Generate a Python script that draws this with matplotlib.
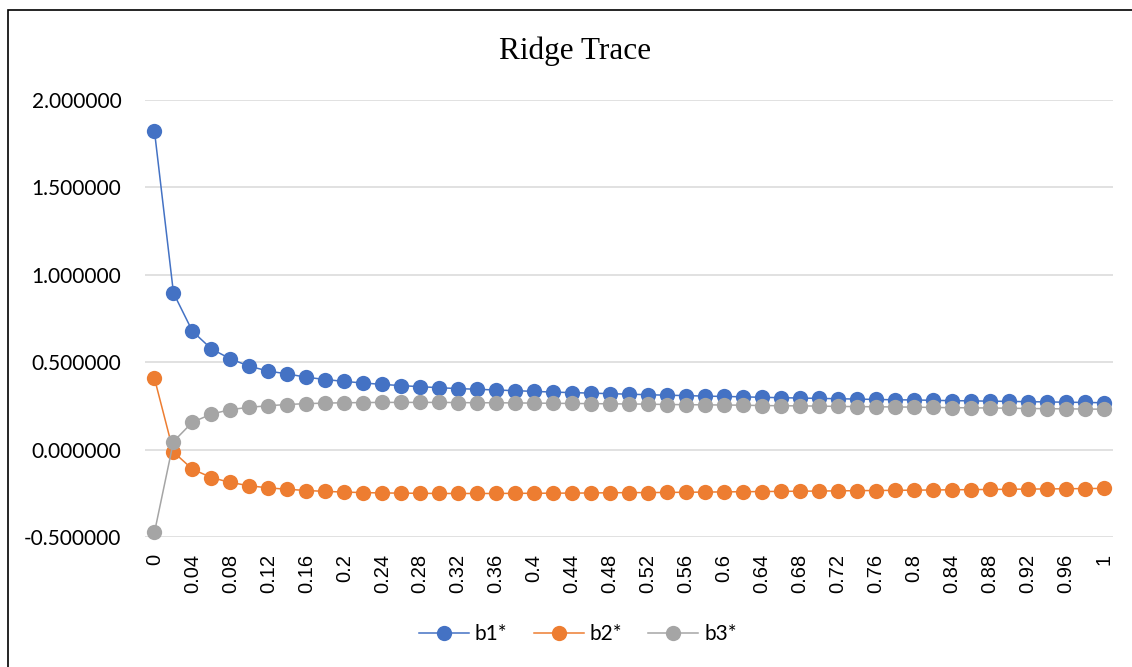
import matplotlib
matplotlib.use("Agg")
import matplotlib.pyplot as plt
from matplotlib.patches import Rectangle

# Ridge parameter k (category axis)
k_labels = ["0", "0.02", "0.04", "0.06", "0.08", "0.1", "0.12", "0.14", "0.16", "0.18",
            "0.2", "0.22", "0.24", "0.26", "0.28", "0.3", "0.32", "0.34", "0.36", "0.38",
            "0.4", "0.42", "0.44", "0.46", "0.48", "0.5", "0.52", "0.54", "0.56", "0.58",
            "0.6", "0.62", "0.64", "0.66", "0.68", "0.7", "0.72", "0.74", "0.76", "0.78",
            "0.8", "0.82", "0.84", "0.86", "0.88", "0.9", "0.92", "0.94", "0.96", "0.98", "1"]

# Standardised ridge coefficients
b1 = [1.821, 0.896, 0.677, 0.576, 0.519, 0.477, 0.449, 0.433, 0.414, 0.401,
      0.390, 0.381, 0.373, 0.366, 0.360, 0.354, 0.349, 0.345, 0.341, 0.337,
      0.333, 0.329, 0.326, 0.323, 0.320, 0.317, 0.314, 0.311, 0.309, 0.306,
      0.304, 0.302, 0.299, 0.297, 0.295, 0.293, 0.291, 0.289, 0.287, 0.285,
      0.284, 0.282, 0.280, 0.279, 0.277, 0.276, 0.274, 0.273, 0.271, 0.270, 0.268]
b2 = [0.407, -0.014, -0.112, -0.160, -0.188, -0.207, -0.219, -0.227, -0.234, -0.239,
      -0.243, -0.246, -0.248, -0.249, -0.250, -0.251, -0.251, -0.251, -0.251, -0.250,
      -0.250, -0.249, -0.249, -0.248, -0.247, -0.246, -0.246, -0.245, -0.244, -0.243,
      -0.242, -0.241, -0.240, -0.239, -0.238, -0.237, -0.236, -0.235, -0.234, -0.233,
      -0.232, -0.231, -0.230, -0.229, -0.228, -0.227, -0.226, -0.225, -0.224, -0.223, -0.222]
b3 = [-0.473, 0.046, 0.157, 0.203, 0.229, 0.242, 0.251, 0.258, 0.263, 0.266,
      0.268, 0.269, 0.270, 0.270, 0.270, 0.270, 0.269, 0.268, 0.268, 0.267,
      0.266, 0.265, 0.264, 0.263, 0.262, 0.261, 0.260, 0.258, 0.257, 0.256,
      0.255, 0.254, 0.252, 0.251, 0.250, 0.249, 0.247, 0.246, 0.245, 0.244,
      0.243, 0.241, 0.240, 0.239, 0.238, 0.237, 0.235, 0.234, 0.233, 0.232, 0.231]

series_names = ["b1*", "b2*", "b3*"]
colors = ["#4472C4", "#ED7D31", "#A5A5A5"]
y_ticks = [-0.5, 0.0, 0.5, 1.0, 1.5, 2.0]

W, H = 1132, 667
fig = plt.figure(figsize=(W / 100, H / 100), dpi=100)
fig.patch.set_facecolor("white")

# outer chart frame
fig.patches.append(Rectangle((8 / W, -0.05), 1.2, (H - 10) / H + 0.05,
                             transform=fig.transFigure, fill=False,
                             edgecolor="black", linewidth=1.2))

ax = fig.add_axes([145 / W, 1 - 537 / H, (1113 - 145) / W, (537 - 100) / H])
x = list(range(len(k_labels)))
for vals, name, c in zip([b1, b2, b3], series_names, colors):
    ax.plot(x, vals, color=c, linewidth=1.1, marker="o", markersize=11,
            markeredgewidth=0, label=name, clip_on=False, zorder=3)

ax.set_xlim(-0.5, len(k_labels) - 0.5)
ax.set_ylim(-0.5, 2.0)
ax.set_yticks(y_ticks)
ax.set_yticklabels([f"{v:.6f}" for v in y_ticks], fontfamily="Lato", fontsize=15)
ax.set_xticks(x[::2])
ax.set_xticklabels(k_labels[::2], rotation=90, fontfamily="Liberation Sans",
                   fontsize=14.5, va="top", ha="center")
ax.tick_params(axis="both", length=0)
ax.tick_params(axis="y", pad=17)
ax.tick_params(axis="x", pad=12)
ax.grid(axis="y", color="#D9D9D9", linewidth=1.1)
ax.set_axisbelow(True)
for s in ax.spines.values():
    s.set_visible(False)

fig.text(575 / W, 1 - 51 / H, "Ridge Trace", ha="center", va="center",
         fontfamily="Liberation Serif", fontsize=22.5)

fig.legend(loc="center", bbox_to_anchor=(578 / W, 1 - 634 / H), ncol=3,
           frameon=False, prop={"family": "Lato", "size": 15},
           handlelength=2.4, columnspacing=1.25, handletextpad=0.3)

fig.savefig("out.png", dpi=100)
